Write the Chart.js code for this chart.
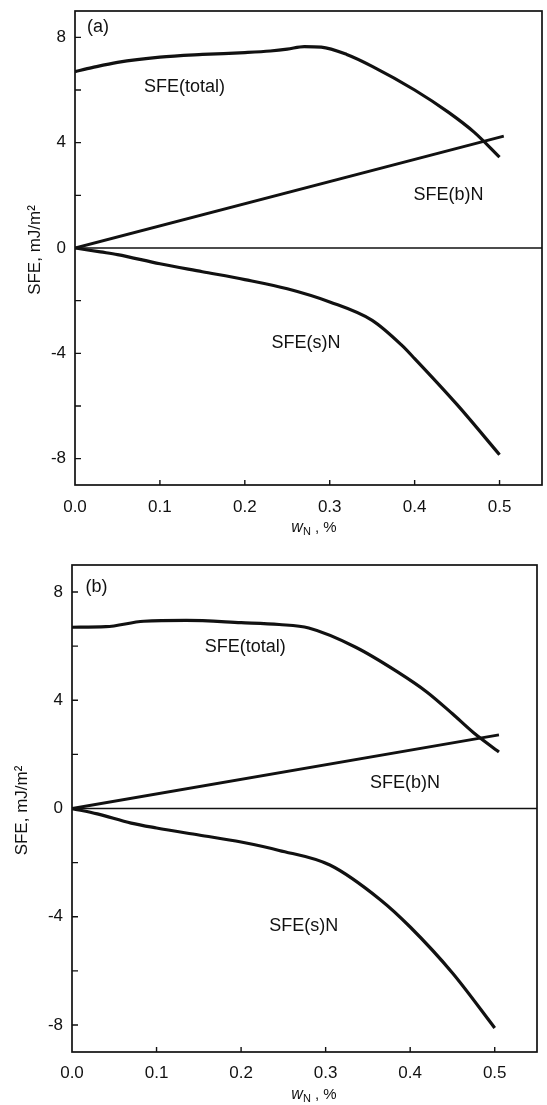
<!DOCTYPE html>
<html>
<head>
<meta charset="utf-8">
<script src="https://cdn.jsdelivr.net/npm/chart.js@4.4.1/dist/chart.umd.min.js"></script>
<style>
  html, body { margin: 0; padding: 0; background: #fff; }
  .panel { position: absolute; left: 0; width: 547px; }
  #panelA { top: 0; height: 540px; }
  #panelB { top: 540px; height: 565px; }
</style>
</head>
<body>
<div class="panel" id="panelA"><canvas id="chartA"></canvas></div>
<div class="panel" id="panelB"><canvas id="chartB"></canvas></div>
<script>
/* ---- shared axis ticks ---- */
const xTicks = [0, 0.1, 0.2, 0.3, 0.4, 0.5];
const xTickLabels = ['0.0', '0.1', '0.2', '0.3', '0.4', '0.5'];
const yTicks = [-8, -6, -4, -2, 0, 2, 4, 6, 8];
const yTickLabels = ['-8', '', '-4', '', '0', '', '4', '', '8'];

/* ---- panel (a) ---- */
const aTotalW = [0, 0.02, 0.05, 0.1, 0.15, 0.2, 0.23, 0.25, 0.27, 0.29, 0.32, 0.35, 0.4, 0.44, 0.47, 0.5];
const aTotalE = [6.7, 6.85, 7.05, 7.25, 7.35, 7.42, 7.48, 7.55, 7.65, 7.63, 7.35, 6.9, 6.0, 5.15, 4.4, 3.45];
const aBulkW = [0, 0.505];
const aBulkE = [0, 4.25];
const aSurfW = [0, 0.03, 0.05, 0.1, 0.15, 0.2, 0.25, 0.3, 0.35, 0.385, 0.4, 0.45, 0.5];
const aSurfE = [0, -0.15, -0.25, -0.6, -0.9, -1.2, -1.55, -2.05, -2.75, -3.7, -4.2, -5.95, -7.85];

/* ---- panel (b) ---- */
const bTotalW = [0, 0.04, 0.085, 0.135, 0.2, 0.245, 0.28, 0.335, 0.385, 0.42, 0.45, 0.475, 0.505];
const bTotalE = [6.7, 6.72, 6.92, 6.95, 6.87, 6.8, 6.67, 5.97, 5.05, 4.3, 3.5, 2.8, 2.09];
const bBulkW = [0, 0.505];
const bBulkE = [0, 2.72];
const bSurfW = [0, 0.03, 0.07, 0.1, 0.15, 0.2, 0.245, 0.305, 0.365, 0.4, 0.45, 0.5];
const bSurfE = [0, -0.2, -0.54, -0.72, -0.98, -1.24, -1.55, -2.09, -3.38, -4.38, -6.08, -8.11];

const zeroW = [0, 0.55];
const zeroE = [0, 0];

/* ---- curve labels, in data units ---- */
const aNotes = [
  { text: '(a)', x: 0.027, y: 8.4 },
  { text: 'SFE(total)', x: 0.129, y: 6.1 },
  { text: 'SFE(b)N', x: 0.44, y: 2.0 },
  { text: 'SFE(s)N', x: 0.272, y: -3.6 },
];
const bNotes = [
  { text: '(b)', x: 0.029, y: 8.2 },
  { text: 'SFE(total)', x: 0.205, y: 5.95 },
  { text: 'SFE(b)N', x: 0.394, y: 0.95 },
  { text: 'SFE(s)N', x: 0.274, y: -4.35 },
];

const FONT = "'Liberation Sans', Arial, Helvetica, sans-serif";
const INK = '#111';

const pts = (xs, ys) => xs.map((x, i) => ({ x, y: ys[i] }));

function curve(xs, ys, width) {
  return {
    data: pts(xs, ys),
    borderColor: INK,
    borderWidth: width,
    pointRadius: 0,
    cubicInterpolationMode: 'monotone',
    showLine: true,
    fill: false,
  };
}

// frame, inner ticks, curve labels and axis titles
const framePlugin = {
  id: 'frame',
  afterDraw(chart, args, opts) {
    const { ctx, chartArea: a, scales: { x, y } } = chart;
    ctx.save();
    ctx.strokeStyle = INK;
    ctx.lineWidth = 1.7;
    ctx.strokeRect(a.left, a.top, a.right - a.left, a.bottom - a.top);

    ctx.lineWidth = 1.4;
    ctx.beginPath();
    yTicks.forEach(v => {
      const py = y.getPixelForValue(v);
      ctx.moveTo(a.left, py);
      ctx.lineTo(a.left + 6, py);
    });
    xTicks.forEach(v => {
      if (v === 0) return;
      const px = x.getPixelForValue(v);
      ctx.moveTo(px, a.bottom);
      ctx.lineTo(px, a.bottom - 5);
    });
    ctx.stroke();

    ctx.fillStyle = INK;
    ctx.font = `18px ${FONT}`;
    ctx.textAlign = 'center';
    ctx.textBaseline = 'middle';
    opts.notes.forEach(n => {
      ctx.fillText(n.text, x.getPixelForValue(n.x), y.getPixelForValue(n.y));
    });

    // y title, rotated
    ctx.save();
    ctx.font = `17px ${FONT}`;
    ctx.translate(opts.yTitleX, (a.top + a.bottom) / 2 + 2);
    ctx.rotate(-Math.PI / 2);
    ctx.textBaseline = 'alphabetic';
    ctx.fillText('SFE, mJ/m\u00B2', 0, 0);
    ctx.restore();

    // x title: italic w, subscript N
    const base = a.bottom + 47;
    ctx.textBaseline = 'alphabetic';
    ctx.textAlign = 'left';
    ctx.font = `italic 16px ${FONT}`;
    const w1 = ctx.measureText('w').width;
    ctx.font = `11px ${FONT}`;
    const w2 = ctx.measureText('N').width;
    ctx.font = `15px ${FONT}`;
    const w3 = ctx.measureText(' , %').width;
    let cx = opts.xTitleX - (w1 + w2 + w3) / 2;
    ctx.font = `italic 16px ${FONT}`;
    ctx.fillText('w', cx, base);
    cx += w1;
    ctx.font = `11px ${FONT}`;
    ctx.fillText('N', cx, base + 3);
    cx += w2;
    ctx.font = `15px ${FONT}`;
    ctx.fillText(' , %', cx, base);
    ctx.restore();
  }
};

function makePanel(id, sets, notes, geo) {
  const canvas = document.getElementById(id);
  return new Chart(canvas, {
    type: 'scatter',
    data: {
      datasets: [
        curve(zeroW, zeroE, 1.6),
        curve(sets.totalW, sets.totalE, 3.2),
        curve(sets.bulkW, sets.bulkE, 2.9),
        curve(sets.surfW, sets.surfE, 3.2),
      ]
    },
    options: {
      responsive: true,
      maintainAspectRatio: false,
      animation: false,
      devicePixelRatio: 1,
      layout: { autoPadding: false, padding: { top: geo.top, right: geo.right, left: 0, bottom: 0 } },
      plugins: {
        legend: { display: false },
        tooltip: { enabled: false },
        frame: { notes, yTitleX: geo.yTitleX, xTitleX: geo.xTitleX },
      },
      scales: {
        x: {
          type: 'linear',
          min: 0,
          max: 0.55,
          grid: { display: false, drawTicks: false },
          border: { display: false },
          afterBuildTicks: s => { s.ticks = xTicks.map(v => ({ value: v })); },
          afterFit: s => { s.height = geo.xAxisH; s.paddingLeft = 0; s.paddingRight = 0; },
          ticks: {
            autoSkip: false,
            maxRotation: 0,
            padding: geo.xPad,
            color: INK,
            font: { family: FONT, size: 17 },
            callback: (v, i) => xTickLabels[i],
          },
        },
        y: {
          type: 'linear',
          min: -9,
          max: 9,
          grid: { display: false, drawTicks: false },
          border: { display: false },
          afterBuildTicks: s => { s.ticks = yTicks.map(v => ({ value: v })); },
          afterFit: s => { s.width = geo.yAxisW; s.paddingTop = 0; s.paddingBottom = 0; },
          ticks: {
            autoSkip: false,
            padding: 9,
            color: INK,
            font: { family: FONT, size: 17 },
            callback: (v, i) => yTickLabels[i],
          },
        },
      },
    },
    plugins: [framePlugin],
  });
}

makePanel('chartA',
  { totalW: aTotalW, totalE: aTotalE, bulkW: aBulkW, bulkE: aBulkE, surfW: aSurfW, surfE: aSurfE },
  aNotes,
  { top: 11, right: 5, xAxisH: 55, yAxisW: 75, xPad: 12, yTitleX: 40, xTitleX: 314 });

makePanel('chartB',
  { totalW: bTotalW, totalE: bTotalE, bulkW: bBulkW, bulkE: bBulkE, surfW: bSurfW, surfE: bSurfE },
  bNotes,
  { top: 25, right: 10, xAxisH: 53, yAxisW: 72, xPad: 11, yTitleX: 27, xTitleX: 314 });
</script>
</body>
</html>
